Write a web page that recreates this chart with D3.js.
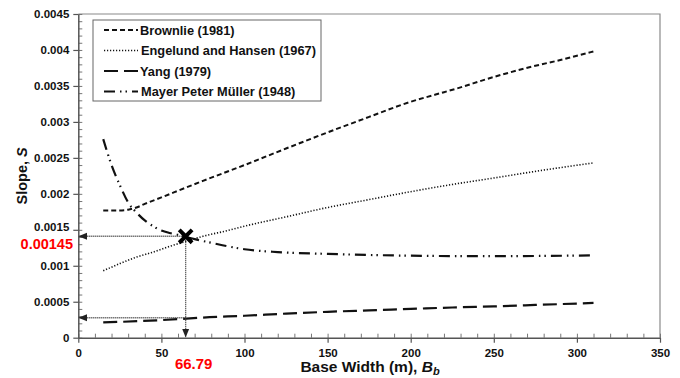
<!DOCTYPE html>
<html>
<head>
<meta charset="utf-8">
<script src="https://cdn.jsdelivr.net/npm/d3@7"></script>
<style>
  body { margin: 0; background: #fff; }
  svg text { font-family: "Liberation Sans", Arial, sans-serif; font-weight: bold; }
</style>
</head>
<body>
<svg id="chart"></svg>
<script>
// values
var brownlieX = [15, 25, 30, 35, 40, 50, 64, 75, 100, 125, 145, 175, 190, 200, 215, 230, 245, 260, 275, 290, 300, 310];
var brownlieY = [0.00177, 0.00177, 0.00178, 0.00181, 0.00186, 0.00195, 0.00208, 0.00218, 0.00240, 0.00263, 0.00281, 0.00307, 0.00320, 0.00328, 0.00338, 0.00348, 0.00359, 0.00369, 0.00378, 0.00386, 0.00392, 0.00398];

var engelundX = [15, 25, 35, 45, 55, 65, 75, 90, 100, 125, 150, 175, 200, 225, 250, 280, 310];
var engelundY = [0.00093, 0.00103, 0.00112, 0.00119, 0.00127, 0.00134, 0.00141, 0.00149, 0.00155, 0.00168, 0.00181, 0.00192, 0.00203, 0.00213, 0.00222, 0.00233, 0.00243];

var yangX = [15, 25, 50, 65, 75, 100, 125, 150, 175, 200, 225, 250, 275, 300, 310];
var yangY = [0.000212, 0.00022, 0.000245, 0.000265, 0.00028, 0.000305, 0.000335, 0.00036, 0.00038, 0.0004, 0.00042, 0.000435, 0.000455, 0.000475, 0.000483];

var mayerX = [15, 20, 25, 30, 35, 40, 45, 50, 55, 60, 65, 70, 80, 90, 100, 120, 150, 175, 200, 250, 300, 310];
var mayerY = [0.00276, 0.00240, 0.00212, 0.00188, 0.00174, 0.00163, 0.00155, 0.00149, 0.001455, 0.00143, 0.00140, 0.00137, 0.00132, 0.00127, 0.00123, 0.00119, 0.001165, 0.00115, 0.00114, 0.001133, 0.001142, 0.001145];

var seriesNames = ["Brownlie (1981)", "Engelund and Hansen (1967)", "Yang (1979)", "Mayer Peter Müller (1948)"];
var xTicks = [0, 50, 100, 150, 200, 250, 300, 350];
var yTicks = [0, 0.0005, 0.001, 0.0015, 0.002, 0.0025, 0.003, 0.0035, 0.004, 0.0045];

// crossing point and labels
var crossX = 64.6, crossY = 0.00141, yangAtCross = 0.000277;
var crossXLabel = "66.79", crossYLabel = "0.00145";

var width = 680, height = 378;
var margin = {left: 78.3, right: 20, top: 14, bottom: 40.3};

var svg = d3.select("#chart").attr("width", width).attr("height", height);

var x = d3.scaleLinear().domain([0, 350]).range([margin.left, width - margin.right]);
var y = d3.scaleLinear().domain([0, 0.0045]).range([height - margin.bottom, margin.top]);

var defs = svg.append("defs");
defs.append("marker")
  .attr("id", "arrow")
  .attr("viewBox", "0 0 10 10")
  .attr("refX", 9).attr("refY", 5)
  .attr("markerWidth", 7).attr("markerHeight", 7)
  .attr("orient", "auto")
  .append("path").attr("d", "M0,1L10,5L0,9Z").attr("fill", "#222");

// frame (top and right)
svg.append("path")
  .attr("d", "M" + x(0) + "," + y(0.0045) + "H" + x(350) + "V" + y(0))
  .attr("fill", "none").attr("stroke", "#8a8a8a").attr("stroke-width", 1.2);

// minor ticks
svg.append("g")
  .attr("transform", "translate(0," + y(0) + ")")
  .call(d3.axisBottom(x).tickValues(d3.range(0, 351, 10)).tickSize(-4).tickFormat(""))
  .call(function(g) { g.select(".domain").remove(); g.selectAll("line").attr("stroke", "#777"); });
svg.append("g")
  .attr("transform", "translate(" + x(0) + ",0)")
  .call(d3.axisLeft(y).tickValues(d3.range(0, 46).map(function(d) { return d * 0.0001; })).tickSize(-4).tickFormat(""))
  .call(function(g) { g.select(".domain").remove(); g.selectAll("line").attr("stroke", "#777"); });

// main axes
var xAxis = svg.append("g")
  .attr("transform", "translate(0," + y(0) + ")")
  .call(d3.axisBottom(x).tickValues(xTicks).tickSize(5).tickSizeOuter(0).tickPadding(6).tickFormat(d3.format("d")));
var yAxis = svg.append("g")
  .attr("transform", "translate(" + x(0) + ",0)")
  .call(d3.axisLeft(y).tickValues(yTicks).tickSize(5).tickSizeOuter(0).tickPadding(4)
    .tickFormat(function(d) { return d === 0 ? "0" : String(+d.toFixed(4)); }));
[xAxis, yAxis].forEach(function(g) {
  g.select(".domain").attr("stroke", "#555").attr("stroke-width", 1.5);
  g.selectAll(".tick line").attr("stroke", "#555").attr("stroke-width", 1.2);
  g.selectAll("text").attr("font-size", 11.5).attr("fill", "#111")
    .style("font-family", "'Liberation Sans', Arial, sans-serif").style("font-weight", "bold");
});
// lift the 0.0015 label a touch so the red value fits below it
yAxis.selectAll(".tick").filter(function(d) { return d === 0.0015; }).select("text").attr("dy", "0.1em");

// series
var series = [
  {name: seriesNames[0], xs: brownlieX, ys: brownlieY, dash: "5,3", w: 2},
  {name: seriesNames[1], xs: engelundX, ys: engelundY, dash: "1.2,1.8", w: 1.6},
  {name: seriesNames[2], xs: yangX, ys: yangY, dash: "14,6", w: 2.2},
  {name: seriesNames[3], xs: mayerX, ys: mayerY, dash: "11,5,1.5,4,1.5,5", w: 2.2}
];

var line = d3.line()
  .x(function(d) { return x(d[0]); })
  .y(function(d) { return y(d[1]); })
  .curve(d3.curveMonotoneX);

series.forEach(function(s) {
  svg.append("path")
    .datum(s.xs.map(function(v, i) { return [v, s.ys[i]]; }))
    .attr("d", line)
    .attr("fill", "none")
    .attr("stroke", "#111")
    .attr("stroke-width", s.w)
    .attr("stroke-dasharray", s.dash);
});

// annotation lines
function refLine(x1, y1, x2, y2) {
  svg.append("line")
    .attr("x1", x1).attr("y1", y1).attr("x2", x2).attr("y2", y2)
    .attr("stroke", "#333").attr("stroke-width", 1.3).attr("stroke-dasharray", "1,1")
    .attr("marker-end", "url(#arrow)");
}
refLine(x(crossX), y(crossY), x(0) + 1, y(crossY));
refLine(x(crossX), y(yangAtCross), x(0) + 1, y(yangAtCross));
refLine(x(crossX), y(crossY), x(crossX), y(0) - 1);

// cross marker
svg.append("path")
  .attr("d", d3.symbol().type(d3.symbolX).size(110))
  .attr("transform", "translate(" + x(crossX) + "," + y(crossY) + ")")
  .attr("fill", "none").attr("stroke", "#000").attr("stroke-width", 4);

svg.append("text")
  .attr("x", 73).attr("y", y(crossY) + 12.5)
  .attr("text-anchor", "end").attr("font-size", 14.5).attr("fill", "#f00")
  .text(crossYLabel);
svg.append("text")
  .attr("x", x(crossX) + 8).attr("y", 369)
  .attr("text-anchor", "middle").attr("font-size", 15).attr("fill", "#f00")
  .text(crossXLabel);

// axis titles
svg.append("text")
  .attr("transform", "translate(27," + ((y(0) + y(0.0045)) / 2) + ") rotate(-90)")
  .attr("text-anchor", "middle").attr("font-size", 14.5).attr("fill", "#111")
  .html("Slope, <tspan font-style='italic'>S</tspan>");
var xt = svg.append("text")
  .attr("x", 370).attr("y", 372)
  .attr("text-anchor", "middle").attr("font-size", 15.5).attr("fill", "#111");
xt.append("tspan").text("Base Width (m), ");
xt.append("tspan").attr("font-style", "italic").text("B");
xt.append("tspan").attr("font-style", "italic").attr("font-size", 11).attr("dy", 3).text("b");

// legend
var lg = svg.append("g");
lg.append("rect")
  .attr("x", 93).attr("y", 20).attr("width", 228).attr("height", 81)
  .attr("fill", "#fff").attr("stroke", "#666").attr("stroke-width", 1);
series.forEach(function(s, i) {
  var ly = 30 + i * 20.5;
  lg.append("line")
    .attr("x1", 104).attr("x2", 138).attr("y1", ly).attr("y2", ly)
    .attr("stroke", "#111").attr("stroke-width", s.w).attr("stroke-dasharray", s.dash);
  lg.append("text")
    .attr("x", i === 1 || i === 3 ? 141 : 140).attr("y", ly + 4.5)
    .attr("font-size", 12.8).attr("fill", "#111")
    .text(s.name);
});
</script>
</body>
</html>
